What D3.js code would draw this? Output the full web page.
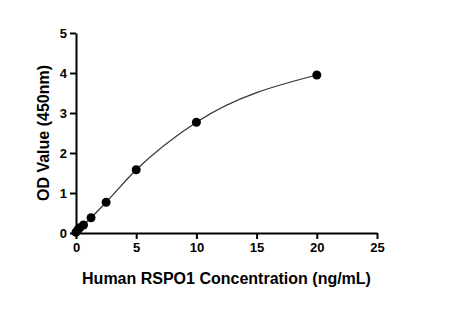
<!DOCTYPE html>
<html>
<head>
    <meta charset="utf-8" />
    <title>RSPO1 standard curve</title>
    <style>
        body { margin: 0; background: #fff; }
        .axis path, .axis line { stroke: #000; stroke-width: 2px; }
        .axis text { font-family: 'Liberation Sans', Arial, sans-serif; font-weight: bold; font-size: 13px; fill: #000; }
        .title { font-family: 'Liberation Sans', Arial, sans-serif; font-weight: bold; font-size: 16px; fill: #000; }
    </style>
    <script src="https://cdnjs.cloudflare.com/ajax/libs/d3/7.8.5/d3.min.js"></script>
</head>
<body>
<script>
    // standard concentrations (ng/mL) and measured OD
    var conc = [0, 0.156, 0.3125, 0.625, 1.25, 2.5, 5, 10, 20];
    var od = [0.02, 0.08, 0.13, 0.2, 0.38, 0.77, 1.58, 2.77, 3.95];
    var xTicks = [0, 5, 10, 15, 20, 25];
    var yTicks = [0, 1, 2, 3, 4, 5];

    var margin = { top: 33, right: 73, bottom: 99, left: 76 };
    var width = 450 - margin.left - margin.right,
        height = 332 - margin.top - margin.bottom;

    var x = d3.scaleLinear().domain([0, 25]).range([0, width]);
    var y = d3.scaleLinear().domain([0, 5]).range([height, 0]);

    var svg = d3.select('body').append('svg')
            .attr('width', 450)
            .attr('height', 332)
        .append('g')
            .attr('transform', 'translate(' + margin.left + ', ' + margin.top + ')');

    var data = conc.map(function(c, i) { return { c: c, v: od[i] }; });

    // fitted curve through the standards
    var line = d3.line()
        .x(function(d) { return x(d.c); })
        .y(function(d) { return y(d.v); })
        .curve(d3.curveMonotoneX);

    svg.append('path')
        .datum(data)
        .attr('fill', 'none')
        .attr('stroke', '#333')
        .attr('stroke-width', 1.2)
        .attr('d', line);

    svg.selectAll('circle')
        .data(data)
        .enter().append('circle')
        .attr('cx', function(d) { return x(d.c); })
        .attr('cy', function(d) { return y(d.v); })
        .attr('r', 4.5)
        .attr('fill', '#000');

    svg.append('g')
        .attr('class', 'axis')
        .attr('transform', 'translate(0, ' + height + ')')
        .call(d3.axisBottom(x).tickValues(xTicks).tickFormat(d3.format('d')).tickSize(6).tickPadding(4).tickSizeOuter(0));

    svg.append('g')
        .attr('class', 'axis')
        .call(d3.axisLeft(y).tickValues(yTicks).tickFormat(d3.format('d')).tickSize(6).tickPadding(3).tickSizeOuter(0));

    svg.append('text')
        .attr('class', 'title')
        .attr('x', width / 2)
        .attr('y', height + 51)
        .style('text-anchor', 'middle')
        .text('Human RSPO1 Concentration (ng/mL)');

    svg.append('text')
        .attr('class', 'title')
        .attr('transform', 'rotate(-90)')
        .attr('x', -height / 2)
        .attr('y', -27)
        .style('text-anchor', 'middle')
        .text('OD Value (450nm)');
</script>
</body>
</html>
